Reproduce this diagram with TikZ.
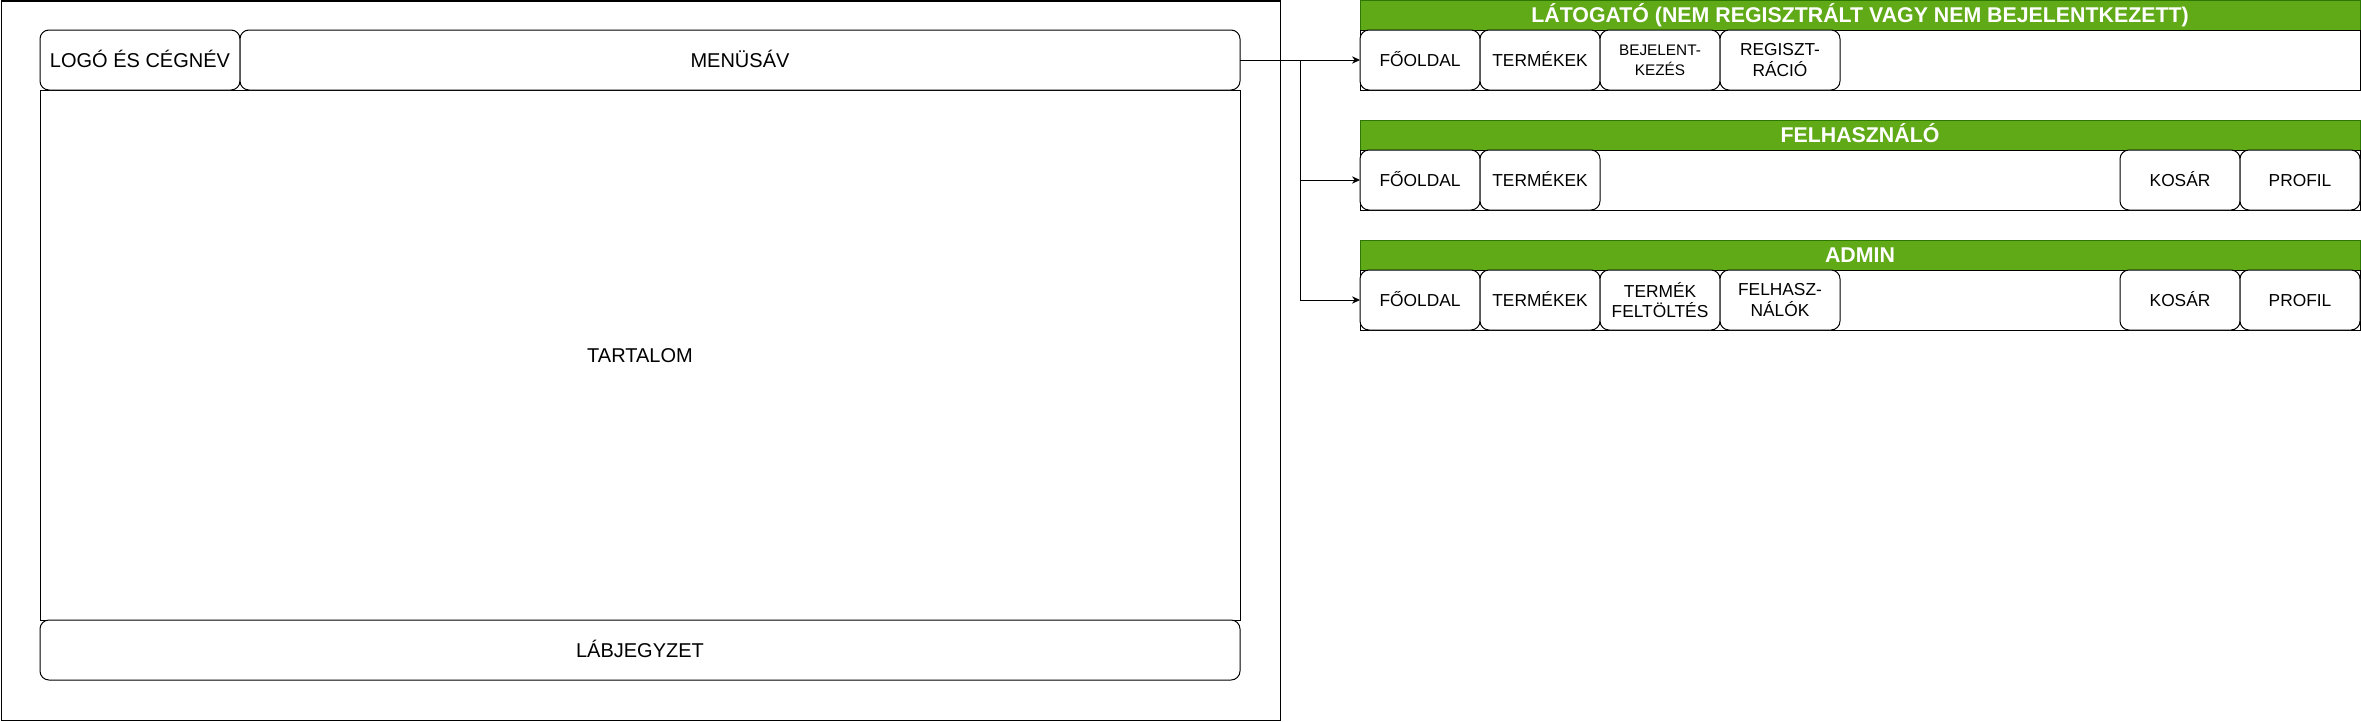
\documentclass[tikz,border=0pt]{standalone}
\usepackage{fontspec}
\setmainfont{Liberation Sans}
\usetikzlibrary{arrows.meta}
\definecolor{hdrgreen}{HTML}{60A917}
\definecolor{hdrstroke}{HTML}{2D7600}
\begin{document}
\begin{tikzpicture}[x=0.75pt,y=-0.75pt,
  every node/.style={inner sep=0pt, outer sep=0pt, line width=0.75pt, align=center},
  big/.style={font=\fontsize{15}{18}\selectfont, text height=10.7pt, text depth=0pt},
  small/.style={font=\fontsize{13}{15.6}\selectfont},
  one/.style={text height=9.3pt, text depth=0pt},
  tiny/.style={font=\fontsize{11.5}{15}\selectfont},
  rbox/.style={draw, fill=white, rounded corners=6.75pt},
  plainbox/.style={draw, fill=white},
  item/.style={rbox, small, minimum width=90pt, minimum height=45pt},
  hdr/.style={draw=hdrstroke, fill=hdrgreen, text=white, font=\bfseries\fontsize{16}{19}\selectfont, text height=11.5pt, text depth=0pt, minimum width=750pt, minimum height=22.5pt},
  rowbox/.style={plainbox, minimum width=750pt, minimum height=45pt},
  conn/.style={line width=0.75pt, -{Stealth[length=6pt,width=5.5pt]}},
  line/.style={line width=0.75pt}
]
\useasboundingbox (0,0) rectangle (2361,721);
% outer frame
\node[draw, minimum width=959.25pt, minimum height=539.25pt] (frame) at (640.5,360.5) {};
% layout parts
\node[plainbox, big, minimum width=900pt, minimum height=397.5pt] (content) at (640,355) {TARTALOM};
\node[rbox, big, minimum width=150pt, minimum height=45pt] (logo) at (140,60) {LOGÓ ÉS CÉGNÉV};
\node[rbox, big, minimum width=750pt, minimum height=45pt] (menu) at (740,60) {MENÜSÁV};
\node[rbox, big, minimum width=900pt, minimum height=45pt] (footer) at (640,650) {LÁBJEGYZET};

% section 1: visitor
\node[hdr] (h1) at (1860,15) {LÁTOGATÓ (NEM REGISZTRÁLT VAGY NEM BEJELENTKEZETT)};
\node[rowbox] (r1) at (1860,60) {};
\node[item, one] (a1) at (1420,60) {FŐOLDAL};
\node[item, one] (a2) at (1540,60) {TERMÉKEK};
\node[item, tiny] (a3) at (1660,60) {BEJELENT-\\KEZÉS};
\node[item] (a4) at (1780,60) {REGISZT-\\RÁCIÓ};

% section 2: user
\node[hdr] (h2) at (1860,135) {FELHASZNÁLÓ};
\node[rowbox] (r2) at (1860,180) {};
\node[item, one] (b1) at (1420,180) {FŐOLDAL};
\node[item, one] (b2) at (1540,180) {TERMÉKEK};
\node[item, one] (b3) at (2180,180) {KOSÁR};
\node[item, one] (b4) at (2300,180) {PROFIL};

% section 3: admin
\node[hdr] (h3) at (1860,255) {ADMIN};
\node[rowbox] (r3) at (1860,300) {};
\node[item, one] (c1) at (1420,300) {FŐOLDAL};
\node[item, one] (c2) at (1540,300) {TERMÉKEK};
\node[item] (c3) at (1660,300) {TERMÉK\\FELTÖLTÉS};
\node[item] (c4) at (1780,300) {FELHASZ-\\NÁLÓK};
\node[item, one] (c5) at (2180,300) {KOSÁR};
\node[item, one] (c6) at (2300,300) {PROFIL};

% connectors
\coordinate (split) at (1300,60);
\draw[conn] (menu.east) -- (a1.west);
\draw[conn] (split) |- (b1.west);
\draw[conn] (split) |- (c1.west);
\end{tikzpicture}
\end{document}
